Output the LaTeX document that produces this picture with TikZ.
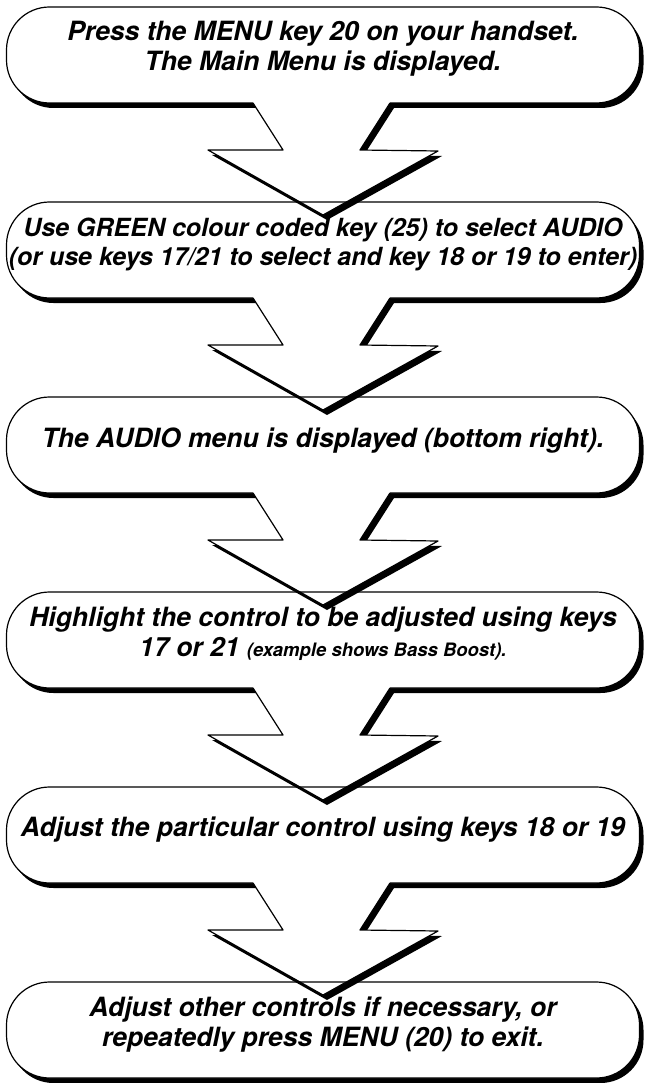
\documentclass[tikz,border=0pt]{standalone}
\usepackage{fontspec}
\setmainfont{TeX Gyre Heros}
\usetikzlibrary{positioning}
\usetikzlibrary{calc}
\usetikzlibrary{shadows}

\tikzset{
  stepbox/.style={minimum width=633pt, minimum height=96pt, inner sep=0pt, outer sep=0pt,
    fill=white, rounded corners=43pt,
    drop shadow={shadow xshift=4pt, shadow yshift=-5pt, opacity=1, fill=black}},
  steptext/.style={font=\fontsize{26.5}{30}\selectfont\bfseries\itshape, align=center, inner sep=0pt},
  boxline/.style={draw=black, line width=1.2pt, line join=round},
  dropfill/.style={fill=black, transform canvas={shift={(4pt,-5pt)}}},
}

%block arrow from the bottom of one box into the next one
\newcommand{\flowarrow}[3]{%
  \path[#1] ($(#2.south)+(-70,0)$) -- ($(#2.south)+(-40,-47)$) -- ($(#2.south)+(-115,-47)$)
    -- ($(#3.north)+(0,-13)$) -- ($(#2.south)+(115,-48)$) -- ($(#2.south)+(37,-47)$)
    -- ($(#2.south)+(67,0)$);}

\begin{document}
\begin{tikzpicture}[x=1pt,y=1pt]
\useasboundingbox (0,0) rectangle (646,-1083);

%boxes
\node[stepbox] (b1) at (323,-55) {};
\node[stepbox, below=99pt of b1] (b2) {};
\node[stepbox, below=99pt of b2] (b3) {};
\node[stepbox, below=99pt of b3] (b4) {};
\node[stepbox, below=99pt of b4] (b5) {};
\node[stepbox, below=99pt of b5] (b6) {};

%arrow shadows
\flowarrow{dropfill}{b1}{b2}
\flowarrow{dropfill}{b2}{b3}
\flowarrow{dropfill}{b3}{b4}
\flowarrow{dropfill}{b4}{b5}
\flowarrow{dropfill}{b5}{b6}
%arrow bodies
\flowarrow{fill=white}{b1}{b2}
\flowarrow{fill=white}{b2}{b3}
\flowarrow{fill=white}{b3}{b4}
\flowarrow{fill=white}{b4}{b5}
\flowarrow{fill=white}{b5}{b6}

%box outlines, open where the arrow leaves
\draw[boxline, rounded corners=43pt] ($(b1.south)+(67,0)$) -- (b1.south east) -- (b1.north east) -- (b1.north west) -- (b1.south west) -- ($(b1.south)+(-70,0)$);
\draw[boxline, rounded corners=43pt] ($(b2.south)+(67,0)$) -- (b2.south east) -- (b2.north east) -- (b2.north west) -- (b2.south west) -- ($(b2.south)+(-70,0)$);
\draw[boxline, rounded corners=43pt] ($(b3.south)+(67,0)$) -- (b3.south east) -- (b3.north east) -- (b3.north west) -- (b3.south west) -- ($(b3.south)+(-70,0)$);
\draw[boxline, rounded corners=43pt] ($(b4.south)+(67,0)$) -- (b4.south east) -- (b4.north east) -- (b4.north west) -- (b4.south west) -- ($(b4.south)+(-70,0)$);
\draw[boxline, rounded corners=43pt] ($(b5.south)+(67,0)$) -- (b5.south east) -- (b5.north east) -- (b5.north west) -- (b5.south west) -- ($(b5.south)+(-70,0)$);
\draw[boxline, rounded corners=43pt] (b6.south west) rectangle (b6.north east);

%arrow outlines
\flowarrow{boxline}{b1}{b2}
\flowarrow{boxline}{b2}{b3}
\flowarrow{boxline}{b3}{b4}
\flowarrow{boxline}{b4}{b5}
\flowarrow{boxline}{b5}{b6}

%texts
\node[steptext] (t1) at ([yshift=6pt]b1.center) {Press the MENU key 20 on your handset.\\The Main Menu is displayed.};
\node[steptext, font=\fontsize{25}{29}\selectfont\bfseries\itshape] (t2) at ([yshift=6pt]b2.center) {Use GREEN colour coded key (25) to select AUDIO\\(or use keys 17/21 to select and key 18 or 19 to enter)};
\node[steptext] (t3) at ([yshift=4pt]b3.center) {The AUDIO menu is displayed (bottom right).};
\node[steptext] (t4) at ([yshift=6pt]b4.center) {Highlight the control to be adjusted using keys\\17 or 21 {\fontsize{18.5}{20}\selectfont (example shows Bass Boost).}};
\node[steptext] (t5) at ([yshift=5pt]b5.center) {Adjust the particular control using keys 18 or 19};
\node[steptext] (t6) at ([yshift=5pt]b6.center) {Adjust other controls if necessary, or\\repeatedly press MENU (20) to exit.};

\end{tikzpicture}
\end{document}
